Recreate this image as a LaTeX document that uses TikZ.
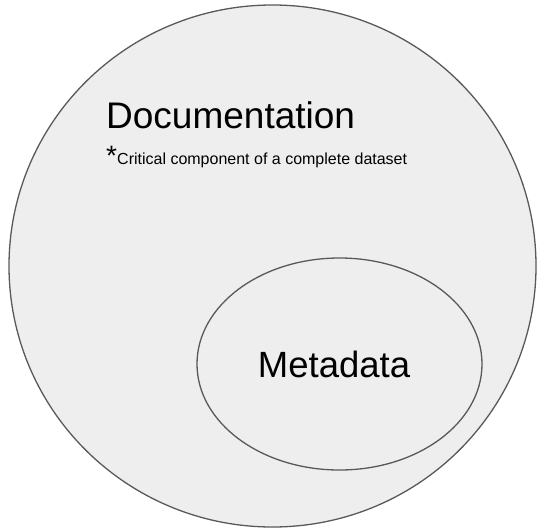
\documentclass[tikz,border=0pt]{standalone}
\usepackage{fontspec}
\setmainfont{Liberation Sans}
\usetikzlibrary{shapes.geometric}
\definecolor{fillgray}{HTML}{EEEEEE}
\definecolor{linegray}{HTML}{595959}
\begin{document}
\begin{tikzpicture}[x=1pt,y=-1pt,
  blob/.style={ellipse, draw=linegray, fill=fillgray, line width=1.3pt, inner sep=0pt},
  lbl/.style={inner sep=0pt, text=black}]
\useasboundingbox (0,0) rectangle (537,530);
\node[blob, minimum width=527pt, minimum height=522pt] (doc) at (272.5,266) {};
\node[blob, minimum width=285pt, minimum height=212pt] (meta) at (339.5,364) {};
\node[lbl, anchor=base west, font=\fontsize{37}{40}\selectfont] (doctitle) at (106,128) {Documentation};
\node[lbl, anchor=base west, font=\fontsize{28}{30}\selectfont] (star) at (106,165) {*};
\node[lbl, anchor=base west, font=\fontsize{16}{18}\selectfont] (note) at (117,164) {Critical component of a complete dataset};
\node[lbl, anchor=base, font=\fontsize{36.5}{40}\selectfont] (metatitle) at (334,377) {Metadata};
\end{tikzpicture}
\end{document}
